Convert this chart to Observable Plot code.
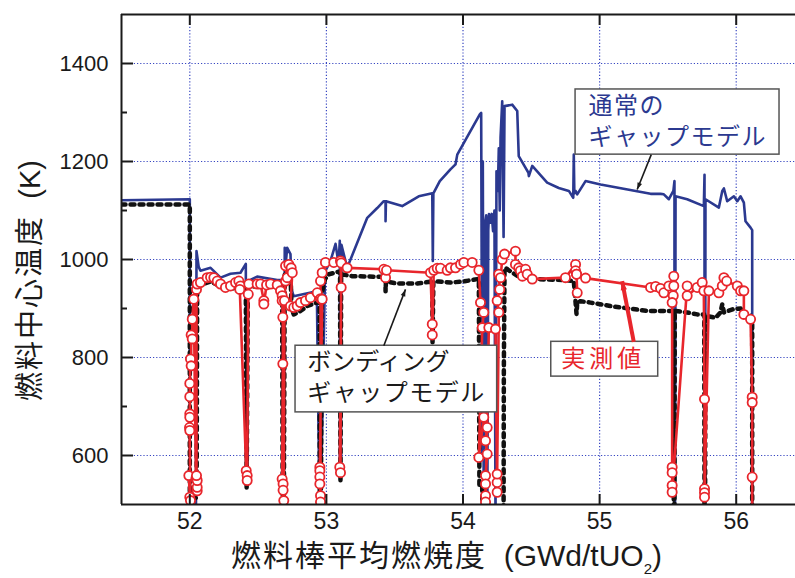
<!DOCTYPE html>
<html><head><meta charset="utf-8">
<script src="https://cdn.jsdelivr.net/npm/d3@7"></script>
<script src="https://cdn.jsdelivr.net/npm/@observablehq/plot@0.6"></script>
<style>
html,body{margin:0;padding:0;background:#fff;}
#chart svg{display:block;overflow:hidden;}
</style></head><body><div id="chart"></div>
<script>
// ---- data (burnup GWd/tUO2, temperature K) ----
const normalX = [51.5,52.0,52.0,52.045,52.049,52.065,52.078,52.152,52.225,52.298,52.371,52.41,52.414,52.42,52.425,52.493,52.64,52.676,52.68,52.688,52.695,52.705,52.713,52.737,52.745,52.76,52.93,52.95,52.957,52.99,53.03,53.067,53.089,53.098,53.1,53.106,53.11,53.152,53.299,53.372,53.42,53.433,53.433,53.436,53.555,53.676,53.775,53.779,53.783,53.83,53.908,53.945,53.958,54.123,54.133,54.141,54.145,54.152,54.16,54.17,54.178,54.185,54.19,54.2,54.21,54.22,54.23,54.238,54.245,54.255,54.262,54.269,54.275,54.287,54.297,54.304,54.36,54.397,54.408,54.458,54.479,54.482,54.507,54.616,54.701,54.775,54.807,54.811,54.815,54.824,54.836,54.897,55.007,55.373,55.446,55.47,55.507,55.54,55.548,55.548,55.552,55.556,55.641,55.763,55.768,55.768,55.772,55.775,55.873,55.898,55.91,55.934,55.983,56.008,56.032,56.056,56.068,56.105,56.117,56.117];
const normalY = [1121,1123,470,470,1017,985,977,983,963,971,973,991,545,545,956,965,958,958,470,470,1024,1000,1024,1011,940,925,935,470,470,975,997,1032,991,1038,565,565,1030,983,1085,1105,1119,1119,1078,1119,1109,1129,1135,997,1135,1160,1184,1194,1214,1296,1299,600,1200,470,1070,1090,470,1060,1093,1075,1093,1058,1100,470,1180,1140,1227,1100,1250,1323,1046,1313,1316,1303,1211,1187,1177,1170,1191,1157,1146,1140,1126,1214,1135,1140,1133,1160,1153,1134,1134,1133,1123,1140,1160,470,470,1129,1123,1109,1173,470,470,1123,1106,1140,1145,1119,1129,1119,1129,1116,1078,1065,1060,470];

const bondX = [51.5,52.0,52.0,52.05,52.054,52.078,52.152,52.225,52.298,52.371,52.41,52.416,52.425,52.493,52.6,52.676,52.68,52.688,52.695,52.737,52.745,52.761,52.81,52.86,52.93,52.95,52.952,52.96,52.965,52.99,53.018,53.09,53.1,53.103,53.108,53.189,53.347,53.433,53.433,53.436,53.518,53.665,53.775,53.777,53.783,53.823,53.908,54.0,54.104,54.116,54.12,54.14,54.145,54.292,54.297,54.299,54.304,54.311,54.35,54.408,54.518,54.75,54.811,54.831,54.836,54.86,54.933,55.08,55.348,55.495,55.541,55.543,55.548,55.55,55.641,55.714,55.766,55.768,55.772,55.775,55.849,55.885,55.898,55.91,55.983,56.032,56.056,56.105,56.117,56.117];
const bondY = [1112,1112,505,515,945,948,955,945,940,945,940,533,945,945,945,948,470,470,975,975,900,888,895,905,912,912,470,470,930,960,970,975,975,545,970,966,965,965,935,955,951,951,955,828,955,955,953,955,960,960,540,540,470,470,470,780,980,983,975,965,960,958,956,889,912,915,912,905,895,895,895,470,470,895,892,888,888,470,470,885,881,892,909,892,899,900,885,885,880,470];

const measX = [51.993,52.0,52.005,51.998,52.0,52.0,52.0,52.0,52.0,52.005,52.01,52.01,52.018,52.018,52.029,52.045,52.054,52.054,52.054,52.049,52.049,52.054,52.078,52.127,52.152,52.176,52.201,52.225,52.261,52.298,52.335,52.359,52.371,52.366,52.413,52.42,52.42,52.428,52.432,52.493,52.518,52.542,52.542,52.562,52.591,52.64,52.664,52.676,52.676,52.681,52.681,52.676,52.683,52.683,52.688,52.693,52.701,52.713,52.701,52.725,52.742,52.75,52.737,52.761,52.786,52.81,52.847,52.883,52.933,52.957,52.969,52.952,52.952,52.952,52.952,52.957,52.957,52.957,52.969,52.993,53.054,53.103,53.108,53.098,53.103,53.108,53.152,53.42,53.433,53.44,53.762,53.775,53.775,53.786,53.811,53.835,53.884,53.908,53.945,53.982,54.006,54.067,54.116,54.128,54.152,54.141,54.116,54.152,54.177,54.165,54.177,54.165,54.165,54.165,54.165,54.189,54.238,54.25,54.25,54.25,54.262,54.25,54.269,54.262,54.275,54.287,54.304,54.384,54.384,54.408,54.42,54.435,54.458,54.47,54.507,54.75,54.824,54.824,54.831,54.836,54.831,54.897,55.373,55.41,55.446,55.47,55.507,55.543,55.543,55.539,55.531,55.531,55.531,55.531,55.531,55.641,55.641,55.714,55.751,55.763,55.768,55.768,55.768,55.768,55.8,55.873,55.898,55.91,55.93,56.008,56.032,56.056,56.056,56.105,56.117,56.117,56.117,56.117];
const measY = [559,515,508,657,651,685,678,720,747,797,783,846,838,878,919,553,528,535,549,559,939,950,953,963,964,963,956,950,943,946,953,956,946,939,569,559,549,929,950,950,950,916,909,948,950,948,936,926,916,882,787,552,542,529,508,916,956,963,987,990,983,973,905,902,905,912,916,922,932,920,919,576,569,556,542,518,505,956,973,994,994,997,943,576,565,993,983,980,963,978,973,868,846,978,982,982,978,983,983,990,994,994,978,912,892,861,596,678,657,630,603,559,542,518,505,861,858,525,545,562,892,916,939,970,963,1000,1011,1017,990,983,977,966,980,970,960,963,990,977,970,932,970,962,943,945,941,932,946,966,946,926,912,576,565,539,525,946,926,943,953,936,715,532,524,515,936,932,946,963,956,946,936,936,888,878,719,708,556,470];

const xTicks = [52, 53, 54, 55, 56];
const yTicks = [600, 800, 1000, 1200, 1400];
const yMinor = [700, 900, 1100, 1300];

// annotation boxes / labels / arrows (data coordinates)
const boxX1 = [54.824, 52.774, 54.646];
const boxX2 = [56.317, 54.250, 55.429];
const boxY1 = [1214, 688, 761];
const boxY2 = [1347, 824, 832];

const labelText = ["通常の", "ギャップモデル", "ボンディング", "ギャップモデル", "実測値"];
const labelX = [54.919, 54.919, 52.859, 52.859, 54.72];
const labelY = [1313, 1250, 791, 726, 797];
const labelColor = ["#2b3990", "#2b3990", "#1a1a1a", "#1a1a1a", "#e8262c"];

const arrowX1 = [55.378, 53.420, 55.250];
const arrowY1 = [1214, 824, 832];
const arrowX2 = [55.275, 53.579, 55.165];
const arrowY2 = [1143, 939, 956];
const arrowColor = ["#1a1a1a", "#1a1a1a", "#e8262c"];
const arrowWidth = [1.6, 1.6, 4];
const arrowHead = [7, 7, 12];

// ---- layout ----
const W = 795, H = 578, mL = 121, mR = 0, mT = 14, mB = 74;
const xDomain = [51.5, 56.434], yDomain = [500, 1500];
const sx = d3.scaleLinear(xDomain, [mL, W - mR]);
const sy = d3.scaleLinear(yDomain, [H - mB, mT]);

const rows = (xs, ys) => xs.map((x, i) => ({x, y: ys[i]}));
const normal = rows(normalX, normalY);
const bond = rows(bondX, bondY);
const meas = rows(measX, measY);
const boxes = boxX1.map((d, i) => ({x1: d, x2: boxX2[i], y1: boxY1[i], y2: boxY2[i]}));
const labels = labelText.map((t, i) => ({text: t, x: labelX[i], y: labelY[i], c: labelColor[i]}));
const arrows = arrowX1.map((d, i) => {
  const dx = sx(arrowX2[i]) - sx(d), dy = sy(arrowY2[i]) - sy(arrowY1[i]);
  return {x1: d, y1: arrowY1[i], x2: arrowX2[i], y2: arrowY2[i], c: arrowColor[i], w: arrowWidth[i], r: arrowHead[i],
          angle: Math.atan2(dx, -dy) * 180 / Math.PI};
});
const headSymbol = {draw(ctx, size) {
  const r = Math.sqrt(size / Math.PI);
  ctx.moveTo(0, 0); ctx.lineTo(-r * 0.8, r * 2.3); ctx.lineTo(r * 0.8, r * 2.3); ctx.closePath();
}};

const blue = "#2b3990", red = "#e8262c", gridColor = "#2233bb";
const latin = "'Liberation Sans',Arial,sans-serif";
const cjk = "'Noto Sans CJK JP','Noto Sans',sans-serif";
const noLabel = () => "";
const plain = d => String(d);

const chart = Plot.plot({
  width: W, height: H, marginLeft: mL, marginRight: mR, marginTop: mT, marginBottom: mB,
  x: {domain: xDomain, label: null},
  y: {domain: yDomain, label: null},
  style: {fontFamily: latin, background: "white", color: "#1a1a1a"},
  marks: [
    Plot.gridX({ticks: xTicks, stroke: gridColor, strokeOpacity: 0.9, strokeWidth: 1.2, strokeDasharray: "1.2,2"}),
    Plot.gridY({ticks: yTicks, stroke: gridColor, strokeOpacity: 0.9, strokeWidth: 1.2, strokeDasharray: "1.2,2"}),
    Plot.line(normal, {x: "x", y: "y", stroke: blue, strokeWidth: 2.6, clip: true}),
    Plot.line(bond, {x: "x", y: "y", stroke: "#111", strokeWidth: 4.5, strokeDasharray: "4,5", clip: true}),
    Plot.line(meas, {x: "x", y: "y", stroke: red, strokeWidth: 2.6, clip: true}),
    Plot.dot(meas, {x: "x", y: "y", r: 4.6, fill: "white", stroke: red, strokeWidth: 1.8, clip: true}),
    Plot.rect(boxes, {x1: "x1", x2: "x2", y1: "y1", y2: "y2", fill: "white", stroke: "#555", strokeWidth: 1.5}),
    Plot.text(labels, {x: "x", y: "y", text: "text", fill: "c", fontSize: 24, textAnchor: "start", fontFamily: cjk}),
    Plot.link(arrows, {x1: "x1", y1: "y1", x2: "x2", y2: "y2", stroke: "c", strokeWidth: "w"}),
    Plot.dot(arrows, {x: "x2", y: "y2", r: "r", symbol: headSymbol, rotate: "angle", fill: "c", stroke: null}),
    Plot.ruleX([xDomain[0]], {stroke: "#1a1a1a", strokeWidth: 2}),
    Plot.ruleY(yDomain, {stroke: "#1a1a1a", strokeWidth: 2}),
    Plot.axisX({ticks: xTicks, anchor: "bottom", tickSize: -10, tickFormat: noLabel, strokeWidth: 2, label: null}),
    Plot.axisX({ticks: xTicks, anchor: "top", tickSize: -10, tickFormat: noLabel, strokeWidth: 2, label: null}),
    Plot.axisX({ticks: xTicks, anchor: "bottom", tickSize: 0, tickPadding: 8, fontSize: 23, tickFormat: plain, label: null}),
    Plot.axisY({ticks: yTicks, anchor: "left", tickSize: -12, tickFormat: noLabel, strokeWidth: 2, label: null}),
    Plot.axisY({ticks: yMinor, anchor: "left", tickSize: -6, tickFormat: noLabel, strokeWidth: 2, label: null}),
    Plot.axisY({ticks: yTicks, anchor: "left", tickSize: 0, tickPadding: 13, fontSize: 22, tickFormat: plain, label: null}),
    Plot.text(["燃料中心温度 (K)"], {frameAnchor: "left", rotate: -90, textAnchor: "middle", lineAnchor: "middle", dx: -91, dy: 21, fontSize: 29, fontFamily: latin + "," + cjk}),
    Plot.text(["燃料棒平均燃焼度 (GWd/tUO2)"], {frameAnchor: "bottom", textAnchor: "middle", lineAnchor: "middle", dx: -12, dy: 52, fontSize: 30, fontFamily: latin + "," + cjk})
  ]
});
document.getElementById("chart").append(chart);

// subscript "2" and letter spacing tweaks
const svg = d3.select(chart);
svg.selectAll("text").each(function() {
  const t = d3.select(this);
  const s = this.textContent;
  if (s === "燃料棒平均燃焼度 (GWd/tUO2)") {
    t.text(null);
    t.append("tspan").style("font-family", cjk).attr("letter-spacing", 2).text("燃料棒平均燃焼度");
    t.append("tspan").text("  (GWd/tUO");
    t.append("tspan").attr("font-size", 15).attr("dy", 8).text("2");
    t.append("tspan").attr("dy", -8).text(")");
  } else if (s === "燃料中心温度 (K)") {
    t.text(null);
    t.append("tspan").style("font-family", cjk).attr("letter-spacing", 2).text("燃料中心温度");
    t.append("tspan").text("  (K)");
  } else if (s === "実測値") {
    t.attr("letter-spacing", 4);
  } else if (s === "ギャップモデル" || s === "通常の") {
    t.attr("letter-spacing", 1.5);
  }
});
</script></body></html>
